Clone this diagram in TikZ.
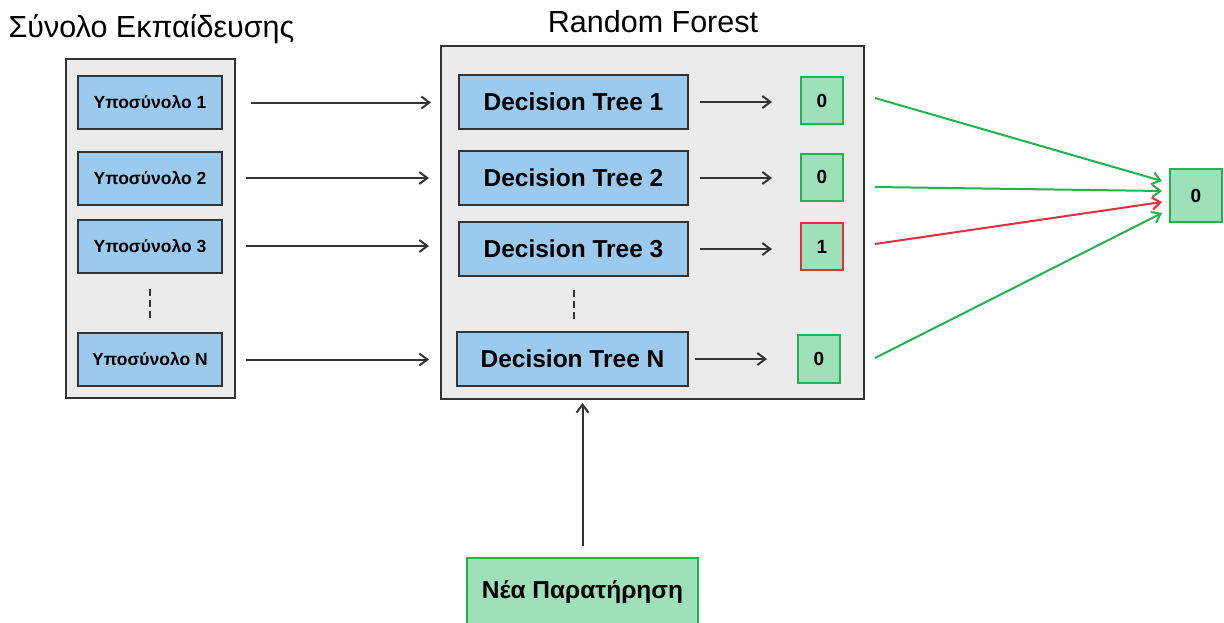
\documentclass[tikz,border=0pt]{standalone}
\usepackage{fontspec}
\setmainfont{Liberation Sans}
\usetikzlibrary{arrows.meta,calc}

\definecolor{panelgray}{HTML}{EBEBEB}
\definecolor{edgegray}{HTML}{333333}
\definecolor{boxblue}{HTML}{9CCAEF}
\definecolor{votefill}{HTML}{9EE0BA}
\definecolor{votegreen}{HTML}{1FB44E}
\definecolor{votered}{HTML}{E2303E}

\tikzset{
  panel/.style={draw=edgegray, fill=panelgray, line width=2pt, inner sep=0pt},
  subsetbox/.style={draw=edgegray, fill=boxblue, line width=2pt, inner sep=0pt,
    minimum width=144pt, minimum height=53pt, font=\bfseries\fontsize{17.5}{21}\selectfont},
  treebox/.style={draw=edgegray, fill=boxblue, line width=2pt, inner sep=0pt,
    minimum height=54pt, font=\bfseries\fontsize{24.5}{29}\selectfont},
  vote/.style={draw=votegreen, fill=votefill, line width=2pt, inner sep=0pt,
    minimum width=42pt, minimum height=47pt, font=\bfseries\fontsize{19}{23}\selectfont},
  heading/.style={anchor=base, inner sep=0pt, font=\fontsize{30.5}{36}\selectfont},
  arr/.style={draw=edgegray, line width=2pt, -{Straight Barb[length=8pt,width=12pt]}},
  greenarr/.style={arr, draw=votegreen},
  redarr/.style={arr, draw=votered},
  dots/.style={draw=edgegray, line width=2pt, dash pattern=on 7pt off 4pt}
}

\begin{document}
\begin{tikzpicture}[x=1pt,y=-1pt]
  \clip (0,0) rectangle (1224,622);
  \fill[white] (0,0) rectangle (1224,622);

  % headings
  \node[heading] (trainTitle) at (151.5,37) {Σύνολο Εκπαίδευσης};
  \node[heading] (rfTitle) at (653,32) {Random Forest};

  % training set panel with its subsets
  \node[panel, minimum width=169pt, minimum height=339pt] (train) at (150.5,228.5) {};
  \node[subsetbox] (s1) at (150,102.5) {Υποσύνολο 1};
  \node[subsetbox] (s2) at (150,178) {Υποσύνολο 2};
  \node[subsetbox] (s3) at (150,246) {Υποσύνολο 3};
  \node[subsetbox] (sN) at (150,359.5) {Υποσύνολο N};
  \draw[dots, shorten <=15pt, shorten >=13pt] (s3.south) -- (sN.north);

  % random forest panel with its trees
  \node[panel, minimum width=423pt, minimum height=353pt] (rf) at (652.5,222.5) {};
  \node[treebox, minimum width=229pt] (t1) at (573.5,102) {Decision Tree 1};
  \node[treebox, minimum width=229pt] (t2) at (573.5,178) {Decision Tree 2};
  \node[treebox, minimum width=229pt] (t3) at (573.5,249) {Decision Tree 3};
  \node[treebox, minimum width=231pt] (tN) at (572.5,359) {Decision Tree N};
  \draw[dots, shorten <=13pt, shorten >=11pt] (t3.south) -- (t3.south |- tN.north);

  % individual tree votes
  \node[vote] (r1) at (822,100.5) {0};
  \node[vote] (r2) at (822,177) {0};
  \node[vote, draw=votered] (r3) at (822,246.5) {1};
  \node[vote, minimum height=48pt] (rN) at (819,359) {0};

  % aggregated result
  \node[vote, minimum width=52pt, minimum height=53pt] (final) at (1196,195.5) {0};

  % new observation
  \node[vote, minimum width=231pt, minimum height=68pt, font=\bfseries\fontsize{24.5}{29}\selectfont]
    (obs) at (582.5,592) {Νέα Παρατήρηση};

  % subsets feed the trees
  \draw[arr, shorten <=28pt, shorten >=27pt] (s1.east) -- (s1.east -| t1.west);
  \draw[arr, shorten <=23pt, shorten >=29pt] (s2.east) -- (s2.east -| t2.west);
  \draw[arr, shorten <=23pt, shorten >=29pt] (s3.east) -- (s3.east -| t3.west);
  \draw[arr, shorten <=23pt, shorten >=27pt] (sN.east) -- (sN.east -| tN.west);

  % trees give their votes
  \draw[arr, shorten <=11pt, shorten >=28pt] (t1.east) -- (t1.east -| r1.west);
  \draw[arr, shorten <=11pt, shorten >=28pt] (t2.east) -- (t2.east -| r2.west);
  \draw[arr, shorten <=11pt, shorten >=28pt] (t3.east) -- (t3.east -| r3.west);
  \draw[arr, shorten <=6pt, shorten >=30pt] (tN.east) -- (tN.east -| rN.west);

  % votes combine into the result
  \draw[greenarr] ($(r1.east)+(31,-2.5)$) -- ($(final.west)+(-7,-14.5)$);
  \draw[greenarr] ($(r2.east)+(31,10)$) -- ($(final.west)+(-7,-4.5)$);
  \draw[redarr]   ($(r3.east)+(31,-2.5)$) -- ($(final.west)+(-7,6.5)$);
  \draw[greenarr] ($(rN.east)+(34,-1)$) -- ($(final.west)+(-7,17.5)$);

  % the new observation enters the forest
  \draw[arr, shorten <=11pt, shorten >=3pt] (obs.north) -- (obs.north |- rf.south);
\end{tikzpicture}
\end{document}
